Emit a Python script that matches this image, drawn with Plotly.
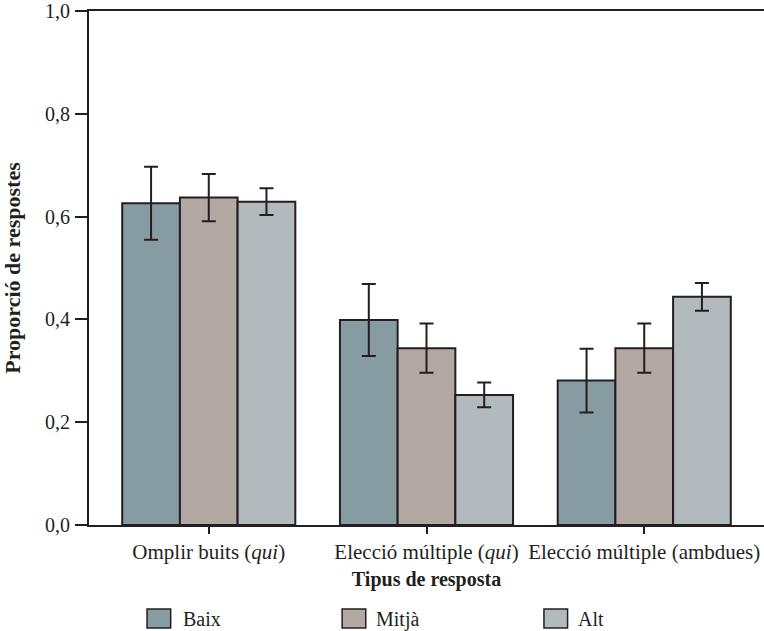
import plotly.graph_objects as go

categories = ["Omplir buits (<i>qui</i>)", "Elecció múltiple (<i>qui</i>)", "Elecció múltiple (ambdues)"]
series_names = ["Baix", "Mitjà", "Alt"]
baix = [0.626, 0.399, 0.281]
mitja = [0.637, 0.344, 0.344]
alt = [0.629, 0.253, 0.444]
baix_err = [0.071, 0.070, 0.062]
mitja_err = [0.046, 0.048, 0.048]
alt_err = [0.026, 0.024, 0.027]
colors = ["#869ca2", "#b3a8a4", "#b3babd"]
y_tickvals = [0.0, 0.2, 0.4, 0.6, 0.8, 1.0]
y_ticktext = ["0,0", "0,2", "0,4", "0,6", "0,8", "1,0"]

values = [baix, mitja, alt]
errors = [baix_err, mitja_err, alt_err]
edge = "#231f20"
font_family = "Liberation Serif, DejaVu Serif, serif"

fig = go.Figure()
for name, vals, errs, col in zip(series_names, values, errors, colors):
    fig.add_trace(go.Bar(
        x=categories, y=vals, name=name,
        marker=dict(color=col, line=dict(color=edge, width=2)),
        error_y=dict(type="data", array=errs, visible=True, color=edge, thickness=2, width=7),
        showlegend=False,
    ))

# manual legend (large square swatches, as in the original)
legend_box_x = [0.086, 0.375, 0.674]
legend_text_x = [0.136, 0.422, 0.722]
for name, col, bx, tx in zip(series_names, colors, legend_box_x, legend_text_x):
    fig.add_shape(type="rect", xref="paper", yref="paper",
                  x0=bx, x1=bx + 0.035, y0=-0.2004, y1=-0.1634,
                  fillcolor=col, line=dict(color=edge, width=1.5))
    fig.add_annotation(xref="paper", yref="paper", x=tx, y=-0.183,
                       text=name, showarrow=False, xanchor="left", yanchor="middle",
                       font=dict(family=font_family, size=20, color=edge))

fig.update_layout(
    width=764, height=631,
    margin=dict(l=89, r=0, t=11, b=106, pad=0),
    paper_bgcolor="white", plot_bgcolor="white",
    barmode="group", bargap=0.205, bargroupgap=0,
    font=dict(family=font_family, size=20, color=edge),
    showlegend=False,
)
fig.update_xaxes(
    range=[-0.55, 2.55], showline=True, linecolor=edge, linewidth=1.5, mirror=True,
    ticks="outside", ticklen=7, tickcolor=edge, tickwidth=1.5,
    showgrid=False, zeroline=False,
    title=dict(text="<b>Tipus de resposta</b>", standoff=9, font=dict(size=20)),
    tickfont=dict(size=21),
)
fig.update_yaxes(
    range=[0, 1.0], tickvals=y_tickvals, ticktext=y_ticktext,
    showline=True, linecolor=edge, linewidth=2,
    ticks="outside", ticklen=12, tickcolor=edge, tickwidth=1.5,
    ticklabelstandoff=1,
    showgrid=False, zeroline=False,
    title=dict(text="<b>Proporció de respostes</b>", standoff=19, font=dict(size=22)),
    tickfont=dict(size=20),
)

fig.write_html("out.html", config={"displayModeBar": False},
               post_script="document.body.style.margin='0';")
